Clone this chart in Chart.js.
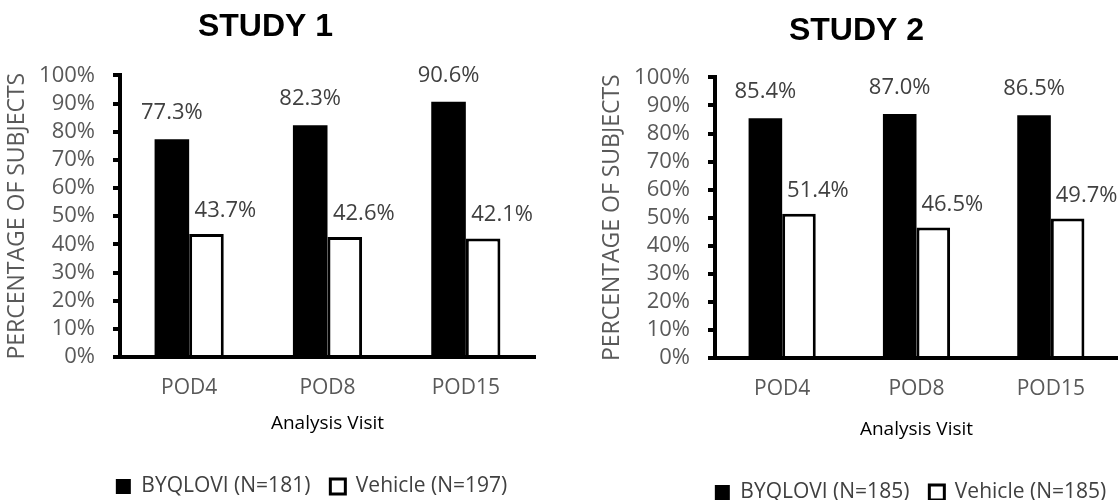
<!DOCTYPE html>
<html>
<head>
<meta charset="utf-8">
<script src="https://cdn.jsdelivr.net/npm/chart.js@4.4.1/dist/chart.umd.min.js"></script>
<style>
  html, body { margin: 0; padding: 0; background: #fff; overflow: hidden; }
  canvas { position: absolute; top: 0; }
  #study1 { left: 0; }
  #study2 { left: 559px; }
</style>
</head>
<body>
<canvas id="study1" width="559" height="500"></canvas>
<canvas id="study2" width="559" height="500"></canvas>
<script>
const visits = ['POD4', 'POD8', 'POD15'];

const study1Byqlovi = [77.3, 82.3, 90.6];
const study1Vehicle = [43.7, 42.6, 42.1];
const study1Names = ['BYQLOVI (N=181)', 'Vehicle (N=197)'];

const study2Byqlovi = [85.4, 87.0, 86.5];
const study2Vehicle = [51.4, 46.5, 49.7];
const study2Names = ['BYQLOVI (N=185)', 'Vehicle (N=185)'];

Chart.defaults.font.family = '"Open Sans", sans-serif';

// value labels above each bar, vehicle ones sit a bit to the right
const barLabels = {
  id: 'barLabels',
  afterDatasetsDraw(chart) {
    const ctx = chart.ctx;
    ctx.save();
    ctx.font = '22px "Open Sans"';
    ctx.fillStyle = '#404040';
    ctx.textAlign = 'center';
    ctx.textBaseline = 'alphabetic';
    chart.data.datasets.forEach((ds, i) => {
      chart.getDatasetMeta(i).data.forEach((bar, j) => {
        const dx = i === 1 ? 19 : 0;
        const dy = i === 1 ? 17 : 20;
        ctx.fillText(ds.data[j].toFixed(1) + '%', bar.x + dx, bar.y - dy);
      });
    });
    ctx.restore();
  }
};

// move title and legend boxes after layout
const nudge = {
  id: 'nudge',
  afterLayout(chart, args, opts) {
    const t = chart.titleBlock;
    const l = chart.legend;
    if (t) { t.left += opts.titleX; t.right += opts.titleX; }
    if (l) {
      l.left += opts.legendX; l.right += opts.legendX;
      l.top += opts.legendY; l.bottom += opts.legendY;
    }
  }
};

function makeChart(id, title, byq, veh, names, o) {
  return new Chart(document.getElementById(id), {
    type: 'bar',
    data: {
      labels: visits,
      datasets: [
        { label: names[0], data: byq, backgroundColor: '#000', borderColor: '#000', borderWidth: 0,
          categoryPercentage: 0.5, barPercentage: 1 },
        { label: names[1], data: veh, backgroundColor: '#fff', borderColor: '#000', borderWidth: 3,
          categoryPercentage: 0.5, barPercentage: 1 }
      ]
    },
    options: {
      responsive: false,
      animation: false,
      devicePixelRatio: 1,
      layout: { padding: { left: o.padLeft, right: o.padRight, top: 0, bottom: o.padBottom } },
      scales: {
        x: {
          grid: { display: true, drawOnChartArea: false, drawTicks: false },
          border: { display: true, color: '#000', width: 4 },
          ticks: { color: '#595959', font: { size: 21 }, padding: 18 },
          title: { display: true, text: 'Analysis Visit', color: '#000', font: { size: 19 },
                   padding: { top: o.xTitleTop, bottom: 0 } }
        },
        y: {
          min: 0,
          max: 100,
          ticks: { stepSize: 10, autoSkip: false, color: '#595959', font: { size: 22 }, padding: 18,
                   callback: v => v + '%' },
          grid: { drawOnChartArea: false, drawTicks: true, tickLength: 7, color: '#000', lineWidth: 4 },
          border: { display: true, color: '#000', width: 4 },
          title: { display: true, text: 'PERCENTAGE OF SUBJECTS', color: '#595959', font: { size: 23 },
                   padding: { top: 4, bottom: 0 } },
          afterFit(scale) { scale.width = 120; }
        }
      },
      plugins: {
        title: {
          display: true, text: title, color: '#000',
          font: { family: '"Liberation Sans", Arial, sans-serif', size: 32, weight: 'bold' },
          padding: o.titlePad
        },
        legend: {
          position: 'bottom',
          labels: { color: '#404040', font: { size: 21 }, boxWidth: 15, boxHeight: 15, padding: 20 }
        },
        tooltip: { enabled: false },
        nudge: { titleX: o.titleX, legendX: o.legendX, legendY: o.legendY }
      }
    },
    plugins: [barLabels, nudge]
  });
}

makeChart('study1', 'STUDY 1', study1Byqlovi, study1Vehicle, study1Names, {
  padLeft: 0, padRight: 24, padBottom: 14, xTitleTop: -6,
  titlePad: { top: 8, bottom: 29 },
  titleX: -2, legendX: 44, legendY: 21
});

makeChart('study2', 'STUDY 2', study2Byqlovi, study2Vehicle, study2Names, {
  padLeft: 36, padRight: 0, padBottom: 8, xTitleTop: -1,
  titlePad: { top: 12, bottom: 27 },
  titleX: 0, legendX: 54, legendY: 21
});
</script>
</body>
</html>
